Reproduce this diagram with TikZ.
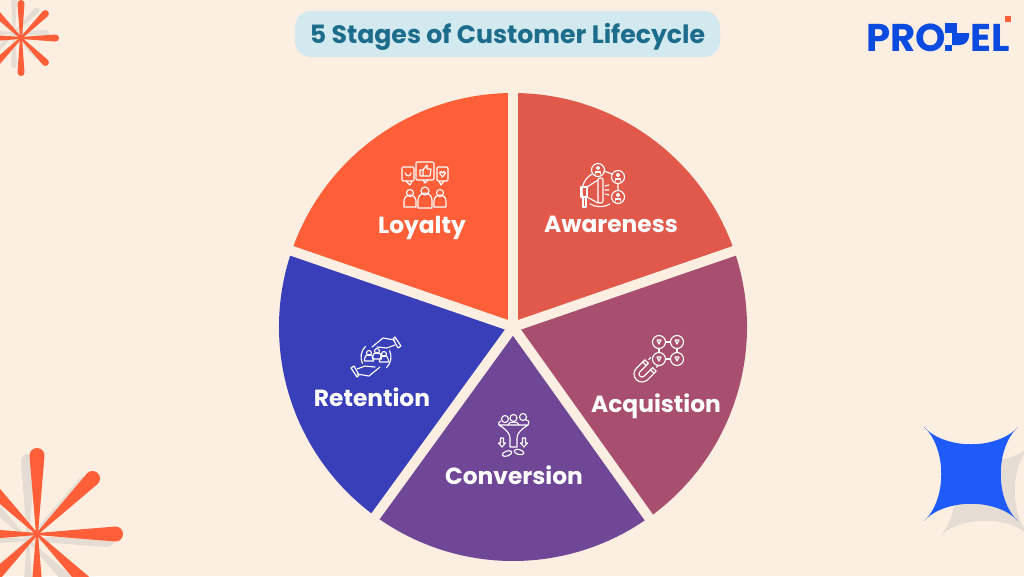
\documentclass[tikz,border=0pt]{standalone}
\usepackage{fontspec}
\setmainfont{Poppins}
\usetikzlibrary{positioning,calc}
\definecolor{pagebg}{HTML}{FCEEE1}
\definecolor{pill}{HTML}{D3E9F0}
\definecolor{titleblue}{HTML}{1C6C8C}
\definecolor{logoblue}{HTML}{0B4BE0}
\definecolor{burst}{HTML}{FF5F38}
\definecolor{burstshade}{HTML}{E5DDD3}
\definecolor{starblue}{HTML}{1F5BFA}
\definecolor{loyal}{HTML}{FF5F38}
\definecolor{aware}{HTML}{E0594B}
\definecolor{acqui}{HTML}{A84F6F}
\definecolor{conve}{HTML}{704696}
\definecolor{reten}{HTML}{383FB8}
\tikzset{
	stagelabel/.style={text=white,anchor=base,inner sep=0pt,font=\bfseries\fontsize{17.5}{20}\selectfont},
	icon/.style={draw=white,line width=0.85pt,line cap=round,line join=round},
	gapline/.style={draw=pagebg,line width=7.5pt},
	logotext/.style={text=logoblue,anchor=base west,inner sep=0pt,font=\bfseries\fontsize{29}{32}\selectfont},
	fourstar/.pic={
		\path[pic actions] (-47,-47) .. controls (-26,-24) and (26,-24) .. (47,-47)
			.. controls (24,-26) and (24,26) .. (47,47)
			.. controls (26,24) and (-26,24) .. (-47,47)
			.. controls (-24,26) and (-24,-26) .. (-47,-47) -- cycle;
	}
}
\begin{document}
\begin{tikzpicture}[x=0.75pt,y=-0.75pt]
		\useasboundingbox (0,0) rectangle (1024,576);
		\clip (0,0) rectangle (1024,576);
		\fill[pagebg] (0,0) rectangle (1024,576);
		% bursts in the corners
		\foreach \cx/\cy/\rr/\ww/\col in {14/33/35/3/burstshade,21/38/38/3.5/burst,28/540/86/7/burstshade,37/534/86/7.5/burst}{
			\foreach \a in {0,45,...,315}{
				\begin{scope}[shift={(\cx,\cy)},rotate=\a]
					\fill[\col] (0,-1) -- ({\rr-\ww},-\ww) arc[start angle=-90,end angle=90,radius=\ww] -- (0,1) -- cycle;
				\end{scope}
			}
		}
		\pic[fill=burstshade] at (985,491) {fourstar};
		\pic[fill=starblue] at (971,474) {fourstar};
		% title and logo
		\fill[pill,rounded corners=12pt] (295,11) rectangle (720,57);
		\node[text=titleblue,anchor=base,inner sep=0pt,font=\bfseries\fontsize{18.9}{22}\selectfont] (title) at (507.5,43) {5 Stages of Customer Lifecycle};
		\node[logotext] (logoleft) at (866,51) {PRO};
		\node[logotext] (logoright) at (970,51) {EL};
		\fill[logoblue] (945,23) rectangle (957,33);
		\fill[logoblue] (945,45) rectangle (952,51);
		\fill[logoblue] (952,33) -- (969,33) -- (969,36) arc[start angle=0,end angle=90,radius=9] -- (952,45) -- cycle;
		\fill[burst] (1005,16) rectangle (1011,22);
		% pie
		\coordinate (hub) at (513,327);
		\foreach \s/\e/\col in {-90/-161/loyal,-19/-90/aware,54.5/-19/acqui,126/54.5/conve,199/126/reten}{
			\fill[\col] (hub) -- ($(hub)+(\s:234)$) arc[start angle=\s,end angle=\e,radius=234] -- cycle;
		}
		\foreach \a in {-90,-19,54.5,126,199}{
			\draw[gapline] (hub) -- ($(hub)+(\a:250)$);
		}
		\node[stagelabel] (loyaltytext) at (422,233) {Loyalty};
		\node[stagelabel] (awarenesstext) at (611,232) {Awareness};
		\node[stagelabel] (acquisitiontext) at (656,412) {Acquistion};
		\node[stagelabel] (conversiontext) at (514,484) {Conversion};
		\node[stagelabel] (retentiontext) at (372,406) {Retention};
		% loyalty icon
		\draw[icon,rounded corners=0.8pt] (402,167) rectangle (414,181);
		\draw[icon,rounded corners=0.8pt] (416,162) rectangle (434,180);
		\draw[icon,rounded corners=0.8pt] (437,167) rectangle (448,181);
		\draw[icon] (406,181) -- (410,185) -- (412,181);
		\draw[icon] (423,180) -- (425,183) -- (428,180);
		\draw[icon] (439,181) -- (441,185) -- (444,181);
		\draw[icon] (405,173) .. controls (407,177) and (410,177) .. (411,173);
		\draw[icon] (420,170) rectangle (423,176) (423,170) -- (427,165) -- (427,169) -- (431,169) -- (430,176) -- (423,176);
		\draw[icon] (442.5,177) -- (439.5,173) arc[start angle=180,end angle=360,radius=1.5] arc[start angle=180,end angle=360,radius=1.5] -- cycle;
		\foreach \hx/\hy/\hr/\bw/\bt/\bb in {410/193/3.5/6/198/207,425/191/4/7/197/208,440/193/3.5/6/198/207}{
			\draw[icon] (\hx,\hy) circle[radius=\hr];
			\draw[icon] (\hx-\bw,\bb) -- (\hx-\bw,\bt+3) arc[start angle=180,end angle=360,radius=\bw] -- (\hx+\bw,\bb) -- cycle;
		}
		% awareness icon
		\draw[icon] (604,171) -- (612,174) (618,184) -- (618,190);
		\draw[icon] (592,174) arc[start angle=-120,end angle=-205,radius=20];
		\draw[icon] (590,204) arc[start angle=120,end angle=60,radius=20];
		\foreach \hx/\hy in {598/170,618/177,618/197}{
			\draw[icon] (\hx,\hy) circle[radius=6.5];
			\draw[icon] (\hx,\hy-2) circle[radius=1.5];
			\draw[icon] (\hx-2.5,\hy+4) -- (\hx-2.5,\hy+2) -- (\hx+2.5,\hy+2) -- (\hx+2.5,\hy+4);
		}
		\draw[icon] (581,187) rectangle (587,197);
		\draw[icon] (583,197) rectangle (586,207);
		\draw[icon] (587,187) -- (598,180) (587,197) -- (598,203);
		\draw[icon,rounded corners=1.5pt] (598,178) rectangle (603,203);
		\draw[icon] (605,186) -- (609,185) (605,190) -- (609,190) (605,194) -- (609,195);
		% acquisition icon
		\foreach \hx/\hy in {659/342,677/342,659/359,677/359}{
			\draw[icon] (\hx,\hy) circle[radius=6.5];
			\draw[icon] (\hx-2,\hy-2) -- (\hx+2,\hy-2) -- (\hx,\hy+2) -- cycle;
		}
		\draw[icon] (665.5,342) -- (670.5,342) (665.5,359) -- (670.5,359) (659,348.5) -- (659,352.5) (677,348.5) -- (677,352.5);
		\begin{scope}[shift={(642,374)},rotate=45]
			\draw[icon] (12,-8) -- (0,-8) arc[start angle=-90,end angle=-270,radius=8] -- (12,8) -- (12,3) -- (0,3)
				arc[start angle=90,end angle=270,radius=3] -- (12,-3) -- cycle;
			\draw[icon] (9,-8) -- (9,-3) (9,3) -- (9,8);
			\draw[icon] (15,-5.5) -- (18,-5.5) (15,5.5) -- (18,5.5);
		\end{scope}
		% conversion icon
		\draw[icon] (499,425) -- (528,425) .. controls (520,430) and (517,434) .. (517,438) -- (517,447) -- (510,447) -- (510,438) .. controls (510,434) and (507,430) .. (499,425) -- cycle;
		\draw[icon] (505,419) circle[radius=3.5];
		\draw[icon] (513.5,418) circle[radius=3.5];
		\draw[icon] (523,417) circle[radius=3.5];
		\draw[icon] (499,425) .. controls (498,421) and (500,423) .. (501,421) (508,425) .. controls (508,421) and (519,421) .. (519,425) (528,425) .. controls (530,420) and (528,421) .. (526,420);
		\foreach \ax in {502,524}{
			\draw[icon] (\ax-1.5,438) -- (\ax+1.5,438) -- (\ax+1.5,443) -- (\ax+3.5,443) -- (\ax,447) -- (\ax-3.5,443) -- (\ax-1.5,443) -- cycle;
		}
		\draw[icon,rotate around={20:(507,453.5)}] (507,453.5) ellipse[x radius=5,y radius=2.5];
		\draw[icon,rotate around={-15:(519,452)}] (519,452) ellipse[x radius=5,y radius=2.5];
		% retention icon
		\foreach \r in {0,180}{
			\begin{scope}[shift={(376,357)},rotate=\r]
				\draw[icon] (155:15) arc[start angle=155,end angle=225,radius=15];
				\draw[icon] (-4,-10) -- (7,-19) -- (19,-17) (19,-12) -- (11,-9) -- (1,-10);
				\draw[icon] (19,-20) -- (25,-11) -- (22,-9) -- (17,-18) -- cycle;
			\end{scope}
		}
		\foreach \hx/\hy in {369/353,377/351,384/354}{
			\draw[icon] (\hx,\hy) circle[radius=2.5];
			\draw[icon] (\hx-4.5,\hy+8) -- (\hx-4.5,\hy+6) arc[start angle=180,end angle=360,radius=4.5] -- (\hx+4.5,\hy+8) -- cycle;
		}
\end{tikzpicture}
\end{document}
